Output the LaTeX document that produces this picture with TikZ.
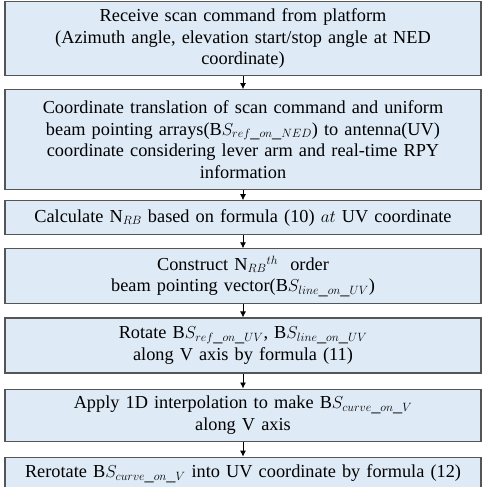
\documentclass[tikz,border=0pt]{standalone}
\usepackage{fontspec}
\setmainfont{Liberation Serif}
\usetikzlibrary{positioning,arrows.meta}

\definecolor{boxfill}{HTML}{DEEAF6}
\definecolor{boxline}{HTML}{555555}

\tikzset{
  stepbox/.style={draw=boxline,line width=1.1pt,fill=boxfill,align=center,
    text width=470pt,inner xsep=3pt,inner ysep=1pt,
    font=\fontsize{18.3}{21.6}\selectfont},
  flow/.style={-{Latex[length=6pt,width=6pt]},line width=.8pt}
}

\begin{document}
\begin{tikzpicture}[x=1pt,y=1pt,node distance=13pt]
  \useasboundingbox (0,0) rectangle (486,-487);

  \node[stepbox,minimum height=74pt,anchor=north] (recv) at (243,-1)
    {Receive scan command from platform\\(Azimuth angle, elevation start/stop angle at NED\\coordinate)};
  \node[stepbox,minimum height=100pt,below=of recv] (trans)
    {Coordinate translation of scan command and uniform\\beam pointing arrays(B$S_{ref\_on\_NED}$) to antenna(UV)\\coordinate considering lever arm and real-time RPY\\information};
  \node[stepbox,minimum height=34pt,below=10pt of trans] (calc)
    {Calculate N$_{RB}$ based on formula (10) $at$ UV coordinate};
  \node[stepbox,minimum height=55pt,below=of calc] (cons)
    {Construct N$_{RB}{}^{th}$\ \ order\\beam pointing vector(B$S_{line\_on\_UV}$)};
  \node[stepbox,minimum height=55pt,below=of cons] (rot)
    {Rotate B$S_{ref\_on\_UV}$, B$S_{line\_on\_UV}$\\along V axis by formula (11)};
  \node[stepbox,minimum height=52pt,below=15pt of rot] (interp)
    {Apply 1D interpolation to make B$S_{curve\_on\_V}$\\along V axis};
  \node[stepbox,minimum height=33pt,below=15pt of interp] (rerot)
    {Rerotate\ B$S_{curve\_on\_V}$\ into UV coordinate by formula (12)};

  \foreach \a/\b in {recv/trans,trans/calc,calc/cons,cons/rot,rot/interp,interp/rerot}
    \draw[flow] (\a) -- (\b);
\end{tikzpicture}
\end{document}
